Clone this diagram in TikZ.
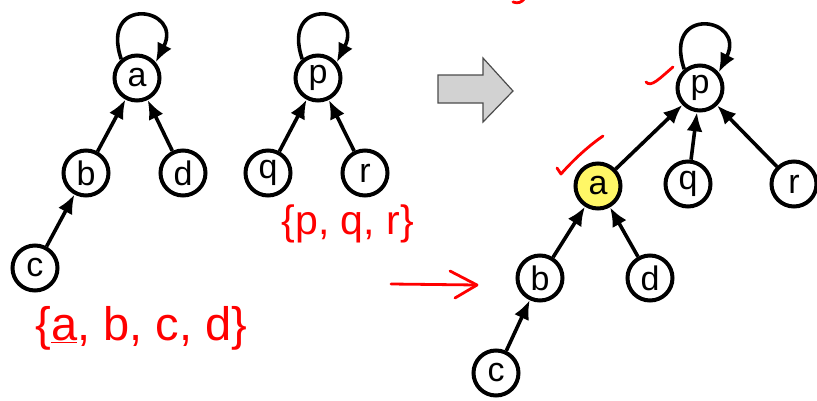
\documentclass[tikz,border=0pt]{standalone}
\usepackage{fontspec}
\setmainfont{Liberation Sans}
\usetikzlibrary{arrows.meta}
\begin{document}
\begin{tikzpicture}[x=1pt,y=-1pt,
  vert/.style={circle,draw=black,line width=4pt,minimum size=45pt,inner sep=0pt,font=\fontsize{34}{34}\selectfont,fill=white},
  hot/.style={vert,fill=yellow!60},
  tree/.style={line width=3.6pt,-{Latex[length=19pt,width=16pt]}},
  ink/.style={red,line width=2.8pt,line cap=round,line join=round},
  hand/.style={red,font=\fontsize{47}{47}\selectfont}]
\useasboundingbox (0,0) rectangle (817,400);

% first tree, rooted at a
\node[vert] (a1) at (137,78) {a};
\node[vert] (b1) at (86,173) {b};
\node[vert] (d1) at (183,173) {d};
\node[vert] (c1) at (35,268) {c};
\draw[tree] (b1) -- (a1);
\draw[tree] (d1) -- (a1);
\draw[tree] (c1) -- (b1);
\draw[tree] (a1.130) .. controls +(-22,-65) and +(28,-55) .. (a1.40);

% second tree, rooted at p
\node[vert] (p1) at (318,78) {p};
\node[vert] (q1) at (268,173) {q};
\node[vert] (r1) at (365,173) {r};
\draw[tree] (q1) -- (p1);
\draw[tree] (r1) -- (p1);
\draw[tree] (p1.130) .. controls +(-22,-65) and +(28,-55) .. (p1.40);

% union arrow
\draw[fill=gray!35,draw=gray!60!black,line width=1.2pt]
  (438,75) -- (483,75) -- (483,58) -- (513,91) -- (483,122) -- (483,103) -- (438,103) -- cycle;

% merged tree
\node[vert] (p2) at (700,88) {p};
\node[hot] (a2) at (598,186) {a};
\node[vert] (q2) at (688,184) {q};
\node[vert] (r2) at (794,184) {r};
\node[vert] (b2) at (540,278) {b};
\node[vert] (d2) at (650,278) {d};
\node[vert] (c2) at (496,373) {c};
\draw[tree] (a2) -- (p2);
\draw[tree] (q2) -- (p2);
\draw[tree] (r2) -- (p2);
\draw[tree] (b2) -- (a2);
\draw[tree] (d2) -- (a2);
\draw[tree] (c2) -- (b2);
\draw[tree] (p2.130) .. controls +(-22,-65) and +(28,-55) .. (p2.40);

% red annotations
\node[hand,anchor=west] (setA) at (32,328) {\{\underline{a}, b, c, d\}};
\node[hand,anchor=west,font=\fontsize{41}{41}\selectfont] (setP) at (278,224) {\{p, q, r\}};
\coordinate (ts) at (391,284);
\coordinate (te) at (477,285);
\draw[ink] (ts) -- (te);
\draw[ink] (te) -- (450,271) (te) -- (455,298);
\draw[ink] (557,168) -- (561,174) .. controls (575,158) and (590,145) .. (603,136);
\draw[ink] (646,82) .. controls (651,88) and (660,78) .. (673,67);
\draw[ink] (513,2) .. controls (518,4) and (522,2) .. (524,-1);
\end{tikzpicture}
\end{document}
